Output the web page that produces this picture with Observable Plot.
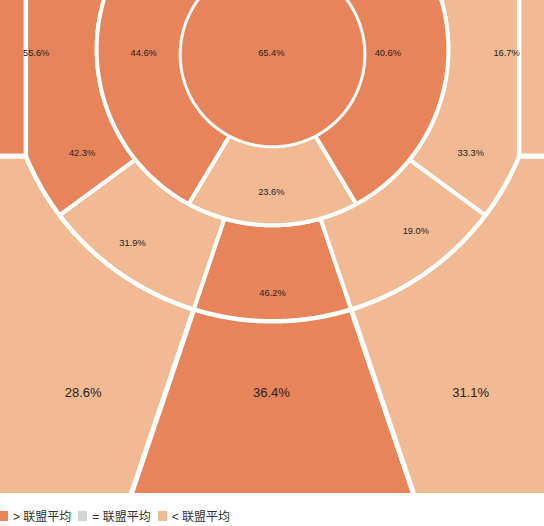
<!DOCTYPE html>
<html>
<head>
<meta charset="utf-8">
<script src="https://cdn.jsdelivr.net/npm/d3@7"></script>
<script src="https://cdn.jsdelivr.net/npm/@observablehq/plot@0.6"></script>
<style>
  body { margin: 0; background: #fff; font-family: "Liberation Sans", "Noto Sans CJK SC", sans-serif; }
  #legend { display: flex; align-items: center; margin-top: 14px; margin-left: -1px; font-size: 12px; color: #333; font-family: "Liberation Sans", "Noto Sans CJK SC", sans-serif; }
  #legend .sw { width: 9px; height: 10px; margin-right: 5px; display: inline-block; }
  #legend .it { display: flex; align-items: center; margin-right: 7px; }
</style>
</head>
<body>
<div id="chart"></div>
<div id="legend"></div>
<script>
// ---- data ----
const zones = ["restricted", "midLeft", "midCenter", "midRight",
  "longLeftSide", "longLeftWing", "longCenter", "longRightWing", "longRightSide",
  "cornerLeft", "cornerRight", "threeLeft", "threeCenter", "threeRight"];
const fgPct = [65.4, 44.6, 23.6, 40.6, 42.3, 31.9, 46.2, 19.0, 33.3, 55.6, 16.7, 28.6, 36.4, 31.1];
const vsLeague = [">", ">", "<", ">", ">", "<", ">", "<", "<", ">", "<", "<", ">", "<"];
const legendLabels = ["> 联盟平均", "= 联盟平均", "< 联盟平均"];
const legendKeys = [">", "=", "<"];
const legendColors = ["#e8845a", "#d3d3d3", "#f2ba92"];

// ---- court layout (feet; basket at origin, y grows toward half court) ----
const W = 544, H = 493, K = 11.2, CX0 = 272, CY0 = 54;
const C1 = {c: 0, r: 8.2};        // inner circle
const C2 = {c: -0.45, r: 15.7};   // mid-range circle
const C3 = {c: 0, r: 23.8};       // three-point arc
const CXL = 22;
const YC = C3.c + Math.sqrt(C3.r * C3.r - CXL * CXL);
const FAR = 45, TOP = -20, SIDE = 30;
const rad = d => d * Math.PI / 180;
const lane = {oy: 2.0, a: rad(18.7)};
const mid = {oy: 0.9, a: rad(31)};
const wing = {oy: 0.4, a: rad(53.7)};

function rayAt(ray, s, C) {
  const co = Math.cos(ray.a), sn = Math.sin(ray.a), d = ray.oy - C.c;
  const t = -d * co + Math.sqrt(d * d * co * co - d * d + C.r * C.r);
  return [s * t * sn, ray.oy + t * co];
}
function rayAtY(ray, s, y) {
  const t = (y - ray.oy) / Math.cos(ray.a);
  return [s * t * Math.sin(ray.a), y];
}
const ang = (p, C) => Math.atan2(p[0], p[1] - C.c);
function arc(C, a0, a1) {
  const n = Math.max(2, Math.ceil(Math.abs(a1 - a0) / rad(0.5)));
  return d3.range(n + 1).map(i => {
    const a = a0 + (a1 - a0) * i / n;
    return [C.r * Math.sin(a), C.c + C.r * Math.cos(a)];
  });
}
function sector(rayA, sA, rayB, sB, Ci, Co) {
  const a1 = rayAt(rayA, sA, Ci), a2 = rayAt(rayA, sA, Co);
  const b2 = rayAt(rayB, sB, Co), b1 = rayAt(rayB, sB, Ci);
  return [a1, ...arc(Co, ang(a2, Co), ang(b2, Co)), ...arc(Ci, ang(b1, Ci), ang(a1, Ci))];
}
function sideMid(s) {
  const p1 = rayAt(mid, s, C1), p2 = rayAt(mid, s, C2);
  return [p1, ...arc(C2, ang(p2, C2), s * Math.PI), ...arc(C1, s * Math.PI, ang(p1, C1))];
}
function sideLong(s) {
  const p1 = rayAt(wing, s, C2), p2 = rayAt(wing, s, C3);
  const ac = Math.atan2(s * CXL, YC - C3.c);
  return [p1, ...arc(C3, ang(p2, C3), ac), [s * CXL, TOP], [0, TOP], ...arc(C2, s * Math.PI, ang(p1, C2))];
}
function threeSide(s) {
  const p = rayAt(lane, s, C3);
  const ac = Math.atan2(s * CXL, YC - C3.c);
  return [[s * SIDE, YC], ...arc(C3, ac, ang(p, C3)), rayAtY(lane, s, FAR), [s * SIDE, FAR]];
}
function threeCenter() {
  const l = rayAt(lane, -1, C3), r = rayAt(lane, 1, C3);
  return [rayAtY(lane, -1, FAR), rayAtY(lane, 1, FAR), ...arc(C3, ang(r, C3), ang(l, C3))];
}
const shapes = {
  restricted: arc(C1, -Math.PI, Math.PI),
  midLeft: sideMid(-1),
  midCenter: sector(mid, -1, mid, 1, C1, C2),
  midRight: sideMid(1),
  longLeftSide: sideLong(-1),
  longLeftWing: sector(lane, -1, wing, -1, C2, C3),
  longCenter: sector(lane, -1, lane, 1, C2, C3),
  longRightWing: sector(lane, 1, wing, 1, C2, C3),
  longRightSide: sideLong(1),
  cornerLeft: [[-SIDE, TOP], [-CXL, TOP], [-CXL, YC], [-SIDE, YC]],
  cornerRight: [[SIDE, TOP], [CXL, TOP], [CXL, YC], [SIDE, YC]],
  threeLeft: threeSide(-1),
  threeCenter: threeCenter(),
  threeRight: threeSide(1)
};
// label anchor for each zone (layout)
const labelAt = {
  restricted: [-0.1, -0.15], midLeft: [-11.5, -0.1], midCenter: [-0.1, 12.3], midRight: [10.3, -0.1],
  longLeftSide: [-17.0, 8.8], longLeftWing: [-12.5, 16.8], longCenter: [0, 21.3],
  longRightWing: [12.8, 15.8], longRightSide: [17.7, 8.8],
  cornerLeft: [-21.1, -0.1], cornerRight: [20.9, -0.1],
  threeLeft: [-16.9, 30.2], threeCenter: [-0.1, 30.2], threeRight: [17.7, 30.2]
};
const bigZones = new Set(["threeLeft", "threeCenter", "threeRight"]);

// draw groups: outer first, restricted last (white borders of different weights)
const groups = [
  {zs: ["cornerLeft", "cornerRight", "threeLeft", "threeCenter", "threeRight"], sw: 5},
  {zs: ["longLeftSide", "longLeftWing", "longCenter", "longRightWing", "longRightSide"], sw: 4},
  {zs: ["midLeft", "midCenter", "midRight"], sw: 4},
  {zs: ["restricted"], sw: 2}
];
function rowsFor(list) {
  const out = [];
  for (const z of list) {
    const i = zones.indexOf(z);
    for (const [x, y] of shapes[z]) out.push({zone: z, x, y, cat: vsLeague[i]});
  }
  return out;
}
const labels = zones.map((z, i) => ({zone: z, x: labelAt[z][0], y: labelAt[z][1], text: fgPct[i].toFixed(1) + "%"}));

const chart = Plot.plot({
  width: W, height: H,
  margin: 0,
  x: {domain: [-CX0 / K, (W - CX0) / K], axis: null},
  y: {domain: [(H - CY0) / K, -CY0 / K], axis: null},
  color: {type: "ordinal", domain: legendKeys, range: legendColors},
  style: {background: "#fff"},
  marks: [
    ...groups.map(g => Plot.line(rowsFor(g.zs), {x: "x", y: "y", z: "zone", fill: "cat", stroke: "white", strokeWidth: g.sw, curve: "linear-closed", clip: true})),
    Plot.text(labels.filter(d => !bigZones.has(d.zone)), {x: "x", y: "y", text: "text", fontSize: 9.3, fill: "#222", fontFamily: "Liberation Sans, Arial, sans-serif"}),
    Plot.text(labels.filter(d => bigZones.has(d.zone)), {x: "x", y: "y", text: "text", fontSize: 13, fill: "#222", fontFamily: "Liberation Sans, Arial, sans-serif"})
  ]
});
document.getElementById("chart").appendChild(chart);

const leg = document.getElementById("legend");
legendLabels.forEach((t, i) => {
  const it = document.createElement("span");
  it.className = "it";
  const sw = document.createElement("span");
  sw.className = "sw";
  sw.style.background = legendColors[i];
  it.appendChild(sw);
  it.appendChild(document.createTextNode(t));
  leg.appendChild(it);
});
</script>
</body>
</html>
